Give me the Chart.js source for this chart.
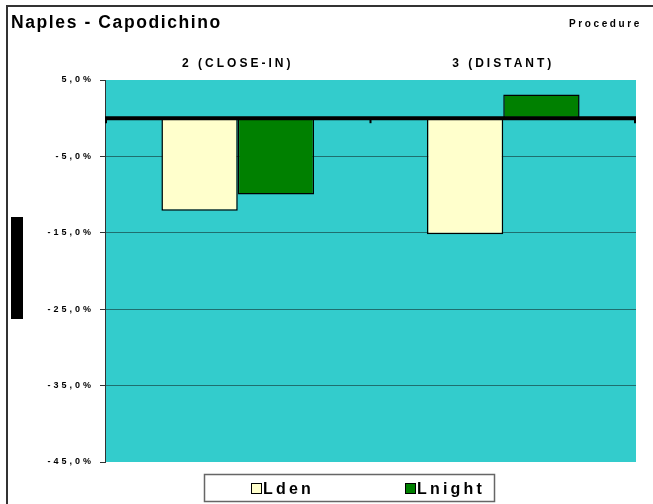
<!DOCTYPE html>
<html>
<head>
<meta charset="utf-8">
<script src="https://cdn.jsdelivr.net/npm/chart.js@4.4.1/dist/chart.umd.min.js"></script>
<style>
  body { margin: 0; background: #fff; }
</style>
</head>
<body>
<canvas id="myChart" width="653" height="504"></canvas>
<script>
// chart data
const chartTitle = 'Naples - Capodichino';
const cornerNote = 'Procedure';
const categories = ['2 (CLOSE-IN)', '3 (DISTANT)'];
const seriesNames = ['Lden', 'Lnight'];
const ldenValues = [-12.1, -15.2];
const lnightValues = [-10.0, 3.1];
const yTicks = [5, -5, -15, -25, -35, -45];

const FONT = 'Arial, "Liberation Sans", sans-serif';
const seriesColors = ['#FFFFCC', '#008000'];

// excel-ish decorations: teal plot area, thick zero line, frame, title, legend
const excelLook = {
  id: 'excelLook',
  beforeDraw(chart) {
    const ctx = chart.ctx;
    const a = chart.chartArea;
    ctx.letterSpacing = '3px';
    ctx.save();
    ctx.fillStyle = '#33CCCC';
    ctx.fillRect(a.left, a.top, a.right - a.left, a.bottom - a.top);
    ctx.restore();
  },
  afterDatasetsDraw(chart) {
    const ctx = chart.ctx;
    const a = chart.chartArea;
    const y0 = chart.scales.y.getPixelForValue(0);
    const xs = chart.scales.x;
    const mid = (xs.getPixelForTick(0) + xs.getPixelForTick(1)) / 2;
    ctx.save();
    ctx.strokeStyle = '#000';
    ctx.lineWidth = 4;
    ctx.beginPath();
    ctx.moveTo(a.left, y0);
    ctx.lineTo(a.right, y0);
    ctx.stroke();
    ctx.lineWidth = 2;
    [a.left + 1, mid, a.right - 1].forEach(x => {
      ctx.beginPath();
      ctx.moveTo(x, y0);
      ctx.lineTo(x, y0 + 5);
      ctx.stroke();
    });
    ctx.restore();
  },
  afterDraw(chart) {
    const ctx = chart.ctx;
    ctx.save();
    // outer frame (only top and left fall inside the picture)
    ctx.strokeStyle = '#333';
    ctx.lineWidth = 2;
    ctx.beginPath();
    ctx.moveTo(7, 504);
    ctx.lineTo(7, 6);
    ctx.lineTo(653, 6);
    ctx.stroke();

    // black block on the left
    ctx.fillStyle = '#000';
    ctx.fillRect(11, 217, 12, 102);

    // title and corner note
    ctx.fillStyle = '#000';
    ctx.textBaseline = 'alphabetic';
    ctx.textAlign = 'left';
    ctx.letterSpacing = '1.6px';
    ctx.font = 'bold 17.5px ' + FONT;
    ctx.fillText(chartTitle, 11, 28);
    ctx.letterSpacing = '2.6px';
    ctx.font = 'bold 10px ' + FONT;
    ctx.fillText(cornerNote, 569, 27);

    // legend box
    ctx.fillStyle = '#fff';
    ctx.fillRect(204, 474, 291, 28);
    ctx.strokeStyle = '#666';
    ctx.lineWidth = 1.5;
    ctx.strokeRect(204.5, 474.5, 290, 27);
    const itemX = [251, 405];
    ctx.letterSpacing = '3.2px';
    ctx.font = 'bold 16px ' + FONT;
    chart.data.datasets.forEach((ds, i) => {
      ctx.fillStyle = ds.backgroundColor;
      ctx.fillRect(itemX[i], 483, 11, 11);
      ctx.strokeStyle = '#000';
      ctx.lineWidth = 1;
      ctx.strokeRect(itemX[i] + 0.5, 483.5, 10, 10);
      ctx.fillStyle = '#000';
      ctx.fillText(ds.label, itemX[i] + 12, 494);
    });
    ctx.restore();
  }
};

const ctx = document.getElementById('myChart').getContext('2d');

const myChart = new Chart(ctx, {
  type: 'bar',
  data: {
    labels: categories,
    datasets: [
      {
        label: seriesNames[0],
        data: ldenValues,
        backgroundColor: seriesColors[0],
        borderColor: '#000',
        borderWidth: 1.5,
        borderSkipped: false
      },
      {
        label: seriesNames[1],
        data: lnightValues,
        backgroundColor: seriesColors[1],
        borderColor: '#000',
        borderWidth: 1.5,
        borderSkipped: false
      }
    ]
  },
  options: {
    responsive: false,
    animation: false,
    layout: { padding: { left: 0, right: 17, top: 0, bottom: 42 } },
    categoryPercentage: 0.575,
    barPercentage: 1,
    plugins: {
      legend: { display: false },
      title: { display: false },
      tooltip: { enabled: false }
    },
    scales: {
      x: {
        position: 'top',
        afterFit(scale) { scale.height = 80; },
        grid: { display: false, drawTicks: false },
        border: { display: false },
        ticks: {
          padding: 9,
          color: '#000',
          font: { family: FONT, size: 12, weight: 'bold' }
        }
      },
      y: {
        min: -45,
        max: 5,
        afterFit(scale) { scale.width = 105; },
        afterBuildTicks(scale) {
          scale.ticks = yTicks.map(v => ({ value: v }));
        },
        grid: {
          color: c => (c.tick && (c.tick.value === 5 || c.tick.value === -45)) ? 'rgba(0,0,0,0)' : '#1f6f6f',
          tickColor: '#333',
          tickLength: 5,
          lineWidth: 1
        },
        border: { display: true, color: '#333', width: 1 },
        ticks: {
          padding: 6,
          color: '#000',
          font: { family: FONT, size: 9, weight: 'bold' },
          callback: v => v.toFixed(1).replace('.', ',') + '%'
        }
      }
    }
  },
  plugins: [excelLook]
});
</script>
</body>
</html>
